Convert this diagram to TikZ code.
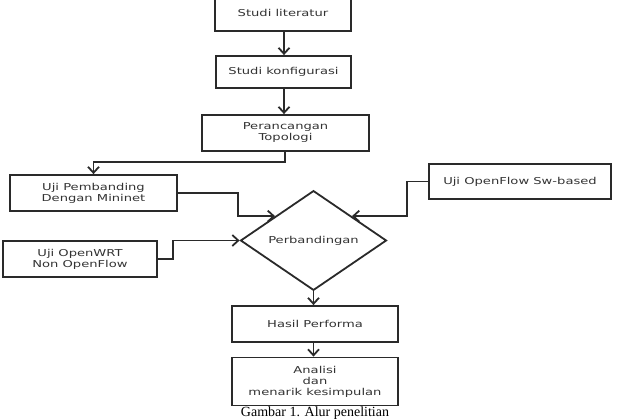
\documentclass[tikz,border=0pt]{standalone}
\usepackage{fontspec}
\newfontfamily\boxfont[FakeStretch=1.38]{DejaVu Sans}
\newfontfamily\capfont{Liberation Serif}
\usetikzlibrary{shapes.geometric,arrows.meta,calc}
\definecolor{linec}{HTML}{2A2A2A}
\definecolor{textc}{HTML}{333333}
\begin{document}
\begin{tikzpicture}[x=1pt,y=-1pt,
  box/.style={draw=linec,line width=1.8pt,fill=white,inner sep=0pt,align=center,
    text=textc,font=\boxfont\fontsize{9.5pt}{11pt}\selectfont},
  arr/.style={draw=linec,line width=1.8pt,-{Straight Barb[length=6pt,width=11pt,line width=1.8pt]}},
  ln/.style={draw=linec,line width=1.8pt}]
\useasboundingbox (0,0) rectangle (618,420);
\clip (0,0) rectangle (618,420);
\node[box,minimum width=136pt,minimum height=36pt] (lit) at (283,13) {Studi literatur};
\node[box,minimum width=135pt,minimum height=32pt] (konf) at (283.5,72) {Studi konfigurasi};
\node[box,minimum width=167pt,minimum height=36pt] (topo) at (285.5,133) {Perancangan\\Topologi};
\node[box,minimum width=167pt,minimum height=36pt] (pb) at (93.5,193) {Uji Pembanding\\Dengan Mininet};
\node[box,minimum width=154pt,minimum height=36pt] (ow) at (80,259) {Uji OpenWRT\\Non OpenFlow};
\node[box,minimum width=182pt,minimum height=35pt] (of) at (520,181.5) {Uji OpenFlow Sw-based};
\node[box,diamond,minimum width=146pt,minimum height=79pt] (d) at (313.5,240.5) {Perbandingan};
\node[box,minimum width=166pt,minimum height=36pt] (hp) at (315,324) {Hasil Performa};
\node[box,minimum width=166pt,minimum height=48pt] (an) at (315,381.5) {Analisi\\dan\\menarik kesimpulan};
\node[font=\capfont\fontsize{14pt}{16pt}\selectfont,anchor=base,inner sep=0pt] (cap) at (315,416.2) {Gambar 1. Alur penelitian};
\coordinate (p1) at ($(d.west)!0.48!(d.north)$);
\coordinate (p2) at ($(d.east)!0.48!(d.north)$);
\draw[arr] (lit.south -| 284,0) -- (konf.north -| 284,0);
\draw[arr] (konf.south -| 284,0) -- (topo.north -| 284,0);
\draw[arr] (topo.south -| 285,0) -- ++(0,10) -| (pb.north);
\draw[arr] (pb.east) -- ++(60,0) |- (p1);
\draw[arr] (ow.east) -- ++(15,0) |- (d.west);
\draw[arr] (of.west) -- ++(-21,0) |- (p2);
\draw[arr] (d.south) -- (d.south |- hp.north);
\draw[arr] (hp.south -| d.south) -- (an.north -| d.south);
\end{tikzpicture}
\end{document}
